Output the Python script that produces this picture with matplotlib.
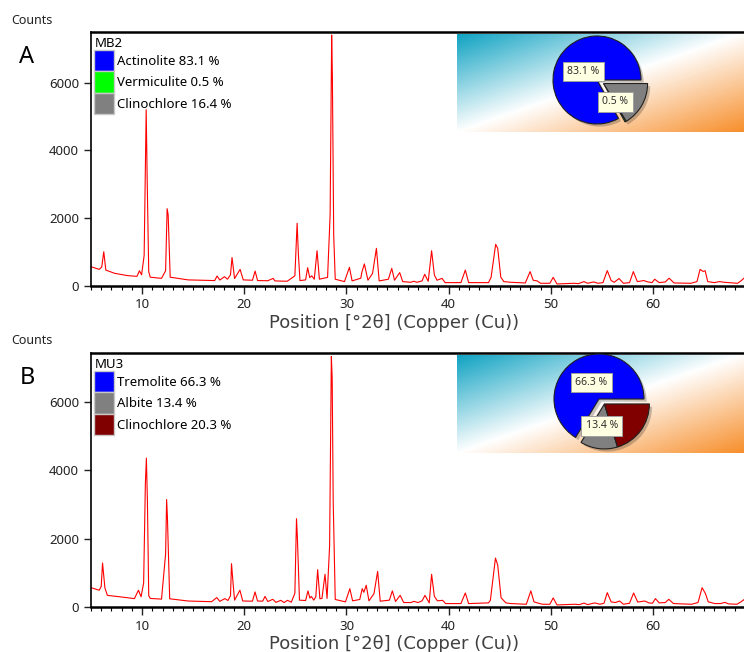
import numpy as np
import matplotlib
matplotlib.use('Agg')
import matplotlib.pyplot as plt
import matplotlib.patches as mpatches
from matplotlib.colors import LinearSegmentedColormap
from matplotlib.ticker import MultipleLocator

plt.rcParams['font.family'] = ['Noto Sans', 'DejaVu Sans']

# --- data (vertices of the diffractogram traces) ---
twotheta_a = [5.0, 5.8, 6.05, 6.25, 6.45, 7.3, 8.6, 9.5, 9.74, 9.95, 10.2, 10.4, 10.5, 10.65, 10.8, 11.9, 12.3, 12.45, 12.55, 12.75,
              14.5, 17.1, 17.34, 17.6, 18.06, 18.35, 18.65, 18.8, 19.05, 19.59, 19.9, 20.8, 21.06, 21.3, 22.3, 22.82, 23.0, 24.2,
              24.95, 25.17, 25.3, 25.45, 26.0, 26.2, 26.4, 26.6, 26.85, 27.12, 27.35, 28.15, 28.4, 28.55, 28.62, 28.75, 28.9,
              29.8, 30.29, 30.55, 31.4, 31.5, 31.75, 32.1, 32.55, 32.93, 33.2, 34.1, 34.43, 34.7, 35.21, 35.5, 36.3, 36.58,
              36.9, 37.4, 37.65, 38.0, 38.33, 38.6, 38.86, 39.35, 39.65, 41.2, 41.63, 41.95, 43.9, 44.15, 44.6, 44.8, 45.1,
              45.4, 46.05, 47.5, 47.97, 48.27, 48.66, 49.0, 49.9, 50.23, 50.6, 52.25, 52.7, 53.24, 53.6, 54.2, 54.6, 55.1,
              55.52, 55.9, 56.2, 56.67, 57.1, 57.7, 58.07, 58.46, 59.1, 59.5, 59.9, 60.16, 60.6, 61.2, 61.57, 62.06, 63.7,
              64.3, 64.6, 64.9, 65.1, 65.35, 66.0, 66.5, 66.96, 68.27, 68.6, 68.9]
counts_a = [570, 490, 560, 1010, 470, 375, 305, 285, 450, 330, 900, 5200, 3100, 420, 260, 225, 450, 2280, 2100, 260,
            180, 160, 295, 175, 275, 200, 330, 840, 220, 490, 180, 170, 440, 160, 155, 225, 150, 140,
            300, 1850, 900, 160, 180, 540, 250, 300, 200, 1040, 200, 255, 2100, 7400, 6200, 1500, 200,
            130, 550, 150, 230, 400, 650, 170, 370, 1110, 150, 200, 520, 170, 395, 130, 110, 140,
            110, 150, 345, 140, 1040, 325, 170, 225, 100, 100, 470, 100, 100, 255, 1230, 1110, 260,
            130, 110, 90, 425, 170, 150, 80, 80, 255, 60, 80, 70, 130, 80, 120, 80, 100,
            455, 160, 110, 220, 80, 100, 425, 130, 160, 120, 100, 200, 100, 120, 230, 90, 80,
            130, 490, 430, 450, 130, 100, 130, 110, 80, 150, 230]

twotheta_b = [5.0, 5.8, 6.0, 6.13, 6.36, 6.6, 7.9, 9.25, 9.64, 9.9, 10.15, 10.32, 10.42, 10.52, 10.65, 10.8, 11.9, 12.3, 12.4,
              12.48, 12.7, 14.5, 16.8, 17.31, 17.6, 18.1, 18.4, 18.65, 18.75, 18.9, 19.05, 19.57, 19.85, 20.8, 21.05, 21.3,
              21.8, 22.03, 22.3, 22.79, 23.1, 23.57, 23.9, 24.23, 24.6, 24.95, 25.11, 25.2, 25.4, 26.0, 26.23, 26.42, 26.56,
              26.8, 27.0, 27.18, 27.4, 27.6, 27.9, 28.1, 28.35, 28.45, 28.52, 28.6, 28.7, 28.9, 29.9, 30.33, 30.6, 31.3,
              31.54, 31.7, 31.93, 32.2, 32.69, 33.05, 33.3, 34.2, 34.49, 34.8, 35.25, 35.6, 36.3, 36.6, 37.0, 37.4, 37.68,
              38.1, 38.33, 38.6, 38.9, 39.41, 39.7, 41.2, 41.63, 41.95, 43.9, 44.08, 44.58, 44.8, 45.13, 45.6, 46.1, 47.6,
              48.04, 48.35, 48.73, 49.2, 49.9, 50.23, 50.6, 52.3, 52.8, 53.24, 53.6, 54.3, 54.8, 55.2, 55.52, 55.9, 56.3,
              56.73, 57.1, 57.7, 58.1, 58.5, 59.18, 59.6, 59.95, 60.23, 60.6, 61.2, 61.54, 62.0, 63.76, 64.4, 64.8, 65.13,
              65.4, 66.05, 66.6, 67.03, 67.4, 68.2, 68.6, 68.9]
counts_b = [565, 490, 600, 1285, 560, 340, 295, 245, 490, 300, 700, 3600, 4350, 3100, 330, 250, 230, 1550, 3140,
            2600, 240, 175, 155, 275, 165, 245, 190, 330, 1265, 700, 200, 490, 175, 170, 440, 175,
            170, 310, 160, 225, 135, 195, 130, 195, 140, 400, 2580, 2000, 200, 190, 470, 260, 310,
            200, 300, 1090, 240, 250, 955, 250, 1800, 4900, 7320, 6700, 3100, 220, 150, 535, 180, 220,
            535, 430, 635, 180, 390, 1040, 170, 200, 470, 160, 340, 130, 130, 165, 130, 180, 340,
            120, 955, 310, 180, 195, 100, 100, 410, 100, 120, 195, 1430, 1220, 270, 120, 100, 80,
            470, 150, 115, 80, 80, 265, 60, 80, 70, 115, 70, 120, 80, 110, 420, 150, 130,
            175, 80, 110, 410, 145, 175, 120, 110, 245, 120, 130, 225, 100, 80, 130, 565, 390,
            150, 100, 100, 135, 90, 80, 150, 215]

phases_a = ['Actinolite', 'Vermiculite', 'Clinochlore']
fractions_a = [83.1, 0.5, 16.4]
colors_a = ['#0000ff', '#00ff00', '#808080']
phases_b = ['Tremolite', 'Albite', 'Clinochlore']
fractions_b = [66.3, 13.4, 20.3]
colors_b = ['#0000ff', '#808080', '#800000']

W, H = 744, 652
fig = plt.figure(figsize=(W/100, H/100), dpi=100)
fig.patch.set_facecolor('white')

def px_box(x0, y0, x1, y1):
    return [x0/W, 1-y1/H, (x1-x0)/W, (y1-y0)/H]

grad_cmap = LinearSegmentedColormap.from_list('bg', [(0, '#0ea2c2'), (0.5, '#ffffff'), (1, '#f78f2c')])

def draw_panel(top, bottom, x, y, ymax, letter, sample, phases, fracs, cols, exploded, shift, pie_c, pie_r, labels):
    ax = fig.add_axes(px_box(91, top, W, bottom))
    ax.plot(x, y, color='#ff0000', lw=0.8)
    ax.set_xlim(5, 68.9); ax.set_ylim(0, ymax)
    ax.xaxis.set_major_locator(MultipleLocator(10)); ax.xaxis.set_minor_locator(MultipleLocator(1))
    ax.set_yticks([0, 2000, 4000, 6000])
    ax.tick_params(axis='both', which='major', direction='out', labelsize=9.5, colors='#222222', length=5, width=1)
    ax.tick_params(axis='x', which='major', length=6, pad=3)
    ax.tick_params(axis='x', which='minor', length=3, width=0.8)
    ax.spines['right'].set_visible(False)
    ax.spines['top'].set_linewidth(1.8); ax.spines['bottom'].set_linewidth(1.8); ax.spines['left'].set_linewidth(1.2)
    handles = [mpatches.Patch(facecolor=c, edgecolor='#c8c8c8', label=f'{p} {f} %') for p, f, c in zip(phases, fracs, cols)]
    ax.legend(handles=handles, title=sample, loc='upper left', bbox_to_anchor=(0.002, 0.99), frameon=False,
              fontsize=9.5, title_fontsize=9.5, handlelength=1.5, handleheight=2.1, handletextpad=0.25,
              labelspacing=0.02, borderpad=0.15, borderaxespad=0, alignment='left')
    fig.text(32/W, 1-(top-12)/H, 'Counts', fontsize=9, ha='center', va='center', color='#222222')
    fig.text(27/W, 1-(top+25)/H, letter, fontsize=17, ha='center', va='center')
    fig.text(394/W, 1-(bottom+37)/H, 'Position [°2θ] (Copper (Cu))', fontsize=13, ha='center', va='center',
             color='#404040', family='DejaVu Sans')
    # gradient background of the composition inset
    gax = fig.add_axes(px_box(457, top+1.5, W, top+100))
    g = np.linspace(0, 1, 200)
    gax.imshow((g[None, :] + g[:, None]) / 2, cmap=grad_cmap, aspect='auto', extent=(0, 1, 0, 1), vmin=0, vmax=1)
    gax.axis('off')
    # composition pie (soft shadow drawn as a second, offset pie underneath)
    cx, cy = pie_c
    s = 56
    pax = fig.add_axes(px_box(cx-s, cy-s, cx+s, cy+s))
    sh = (0.06, -0.06)
    shadows, _ = pax.pie(fracs, colors=['#000000']*len(fracs), startangle=0, counterclock=True, radius=1, center=sh,
                         wedgeprops=dict(alpha=0.22, linewidth=0))
    wedges, _ = pax.pie(fracs, colors=cols, startangle=0, counterclock=True, radius=1,
                        wedgeprops=dict(edgecolor='#202020', linewidth=0.8))
    for i in exploded:
        wedges[i].set_center(shift)
        shadows[i].set_center((shift[0]+sh[0], shift[1]+sh[1]))
    lim = s / pie_r
    pax.set_xlim(-lim, lim); pax.set_ylim(-lim, lim); pax.set_aspect('equal'); pax.axis('off')
    for txt, (lx, ly) in labels:
        pax.text(lx, ly, txt, fontsize=7.5, ha='center', va='center', color='#303030', zorder=10,
                 bbox=dict(boxstyle='square,pad=0.4', facecolor='#ffffe1', edgecolor='#a0a0a0', linewidth=0.7))
    return ax

draw_panel(32, 286, twotheta_a, counts_a, 7490, 'A', 'MB2', phases_a, fractions_a, colors_a,
           [1, 2], (0.15, -0.08), (597, 80), 44, [('83.1 %', (-0.31, 0.2)), ('0.5 %', (0.42, -0.5))])
draw_panel(353, 607, twotheta_b, counts_b, 7420, 'B', 'MU3', phases_b, fractions_b, colors_b,
           [1, 2], (0.12, -0.11), (599, 399), 45, [('66.3 %', (-0.17, 0.36)), ('13.4 %', (0.06, -0.6))])

fig.savefig('out.png', dpi=100, facecolor='white')
